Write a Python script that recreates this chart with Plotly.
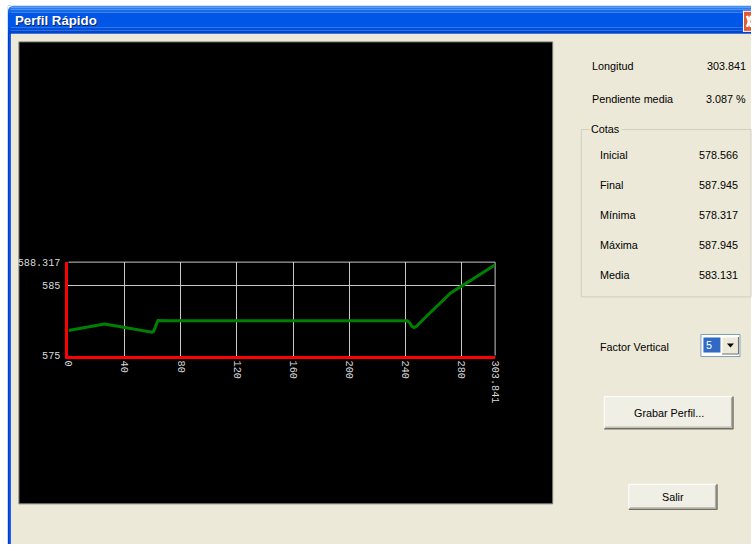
import plotly.graph_objects as go

W, H = 756, 551

# ---------------- data ----------------
distancia = [0, 6, 12, 18, 25.6, 32, 40, 48, 55, 57, 59.4, 60.5, 61.5, 62.5, 63.7,
             72, 90, 110, 130, 150, 170, 190, 210, 230, 241.5, 243.2, 244.6, 246.2,
             248, 255, 263, 271.8, 276, 281.3, 288, 295, 303.841]
cota = [578.57, 578.79, 579.0, 579.22, 579.49, 579.27, 578.99, 578.72, 578.47, 578.41,
        578.32, 578.4, 578.9, 579.6, 579.98,
        579.96, 579.97, 579.95, 579.96, 579.97, 579.95, 579.96, 579.97, 579.96,
        579.96, 579.6, 579.15, 578.98,
        579.2, 580.6, 582.2, 583.84, 584.4, 585.01, 585.9, 586.8, 587.95]

x_tick_vals = [0, 40, 80, 120, 160, 200, 240, 280, 303.841]
x_tick_text = ["0", "40", "80", "120", "160", "200", "240", "280", "303.841"]
y_tick_vals = [575, 585, 588.317]
y_tick_text = ["575", "585", "588.317"]

info_labels = ["Longitud", "Pendiente media"]
info_values = ["303.841", "3.087 %"]
cotas_labels = ["Inicial", "Final", "Mínima", "Máxima", "Media"]
cotas_values = ["578.566", "587.945", "578.317", "587.945", "583.131"]
factor_vertical = "5"

# ---------------- helpers ----------------
# the page is photographed with a small frame; map target pixels to figure pixels
SX, OX = 0.984, 6.1
SY, OY = 0.978, 5.2
FS = 1 / ((SX + SY) / 2)

def X(px):
    p = (px - OX) / SX
    return min(max(p, 0), W) / W

def Y(py):
    p = (py - OY) / SY
    return 1 - min(max(p, 0), H) / H

shapes = []
annotations = []

def rect(x0, y0, x1, y1, fill, line=None, lw=0, layer="below"):
    shapes.append(dict(type="rect", xref="paper", yref="paper",
                       x0=X(x0), x1=X(x1), y0=Y(y1), y1=Y(y0),
                       fillcolor=fill, layer=layer,
                       line=dict(color=line if line else fill, width=lw)))

def seg(x0, y0, x1, y1, color, lw=1, layer="below"):
    shapes.append(dict(type="line", xref="paper", yref="paper",
                       x0=X(x0), x1=X(x1), y0=Y(y0), y1=Y(y1), layer=layer,
                       line=dict(color=color, width=lw)))

def text(x, y, s, anchor="left", size=10.6, color="#000000", family="Liberation Sans",
         bold=False, bg=None):
    annotations.append(dict(x=X(x), y=Y(y), xref="paper", yref="paper", text=(f"<b>{s}</b>" if bold else s),
                            showarrow=False, xanchor=anchor, yanchor="middle",
                            font=dict(size=size * FS, color=color, family=family),
                            bgcolor=bg, borderpad=1 if bg else 0))

BG = "#ECE9D8"

# window client area
rect(11, 35, 770, 570, BG)
# left border
rect(8, 7, 11, 570, "#0855DD")
seg(8.5, 35, 8.5, 570, "#0831D9", 1)
# title bar gradient strips
strips = [(7, 9, "#3D8EF6"), (9, 11, "#2B7BF0"), (11, 14, "#1868EA"),
          (14, 29, "#0056E6"), (29, 32, "#0050DC"), (32, 35, "#0046CB")]
for y0, y1, c in strips:
    rect(8, y0, 770, y1, c)
# rounded corner mask top-left
shapes.append(dict(type="path", xref="paper", yref="paper", layer="below",
                   path=f"M {X(8)},{Y(7)} L {X(14)},{Y(7)} Q {X(8)},{Y(7)} {X(8)},{Y(13)} Z",
                   fillcolor="#FFFFFF", line=dict(width=0)))
# title text
text(15, 23, "Perfil Rápido", size=13, color="#0A246A", bold=True)
text(14, 22, "Perfil Rápido", size=13, color="#FFFFFF", bold=True)
# close button (cut by the right edge)
rect(742, 12, 770, 33, "#E05A32")
seg(742.5, 12, 742.5, 33, "#FFFFFF", 1)
seg(742, 12.5, 770, 12.5, "#FFFFFF", 1)
seg(742, 32.5, 770, 32.5, "#FFFFFF", 1)
seg(746, 17, 756, 28, "#FFFFFF", 2.5)
seg(746, 28, 756, 17, "#FFFFFF", 2.5)

# black chart panel
rect(19, 43, 552, 504, "#000000", "#808080", 1)

# right panel info
info_y = [67, 100]
for lab, val, yy in zip(info_labels, info_values, info_y):
    text(590, yy, lab)
    text(746, yy, val, anchor="right")

# group box "Cotas"
shapes.append(dict(type="rect", xref="paper", yref="paper", layer="below",
                   x0=X(580.5), x1=X(752.5), y0=Y(297.5), y1=Y(130.5),
                   fillcolor="rgba(0,0,0,0)", line=dict(color="#D0D0BF", width=1)))
text(588, 130, "Cotas", bg=BG)
cotas_y = [156, 186, 216, 246, 276]
for lab, val, yy in zip(cotas_labels, cotas_values, cotas_y):
    text(598, yy, lab)
    text(738, yy, val, anchor="right")

# Factor vertical + combo
text(598, 347.5, "Factor Vertical")
rect(700, 335, 739, 357, "#FFFFFF", "#7F9DB9", 1)
rect(702.5, 338, 719.5, 353, "#316AC5")
text(704, 345.5, factor_vertical, color="#FFFFFF")
rect(721, 337.5, 737.5, 354.5, BG)
seg(721, 337.5, 737.5, 337.5, "#FFFFFF", 1)
seg(721, 337.5, 721, 354.5, "#FFFFFF", 1)
seg(721, 354.5, 737.5, 354.5, "#716F64", 1)
seg(737.5, 337.5, 737.5, 354.5, "#716F64", 1)
shapes.append(dict(type="path", xref="paper", yref="paper", layer="above",
                   path=f"M {X(726)},{Y(344)} L {X(733)},{Y(344)} L {X(729.5)},{Y(348)} Z",
                   fillcolor="#000000", line=dict(width=0)))

# buttons
def button(x0, y0, x1, y1, label):
    rect(x0, y0, x1, y1, "#F0EFE6")
    seg(x0, y0, x1, y0, "#FFFFFF", 1)
    seg(x0, y0, x0, y1, "#FFFFFF", 1)
    seg(x0, y1, x1, y1, "#716F64", 1.5)
    seg(x1, y0, x1, y1 + 0.5, "#716F64", 1.5)
    seg(x0 + 1, y1 - 1.5, x1 - 1.5, y1 - 1.5, "#ACA899", 1)
    seg(x1 - 1.5, y0 + 1, x1 - 1.5, y1 - 1.5, "#ACA899", 1)
    text((x0 + x1) / 2, (y0 + y1) / 2, label, anchor="center")

button(603.5, 397, 732, 429, "Grabar Perfil...")
button(628, 484.5, 716, 509.5, "Salir")

# plot frame: grey top and right borders of the plotting area
shapes.append(dict(type="line", xref="x domain", yref="y domain", x0=0, x1=1, y0=1, y1=1,
                   layer="below", line=dict(color="#C8C8C8", width=1)))
shapes.append(dict(type="line", xref="x domain", yref="y domain", x0=1, x1=1, y0=0, y1=1,
                   layer="below", line=dict(color="#C8C8C8", width=1)))

# ---------------- chart ----------------
fig = go.Figure()
fig.add_trace(go.Scatter(x=distancia, y=cota, mode="lines",
                         line=dict(color="#008000", width=3),
                         hoverinfo="skip", showlegend=False))

tick_font = dict(family="Liberation Mono", size=10 * FS, color="#D8D8D8")
fig.update_layout(
    width=W, height=H, autosize=False,
    margin=dict(l=0, r=0, t=0, b=0),
    paper_bgcolor="#FFFFFF", plot_bgcolor="#000000",
    shapes=shapes, annotations=annotations,
    xaxis=dict(domain=[X(68.5), X(494.5)], range=[0, 303.841],
               tickmode="array", tickvals=x_tick_vals, ticktext=x_tick_text,
               tickangle=90, tickfont=tick_font, ticks="",
               showgrid=True, gridcolor="#C8C8C8", gridwidth=1,
               showline=True, linecolor="#FF0000", linewidth=3,
               zeroline=False, fixedrange=True),
    yaxis=dict(domain=[Y(356.0), Y(262.8)], range=[575, 588.317],
               tickmode="array", tickvals=y_tick_vals, ticktext=y_tick_text,
               tickfont=tick_font, ticks="", ticklabelstandoff=3,
               showgrid=True, gridcolor="#C8C8C8", gridwidth=1,
               showline=True, linecolor="#FF0000", linewidth=3,
               zeroline=False, fixedrange=True),
)

fig.write_html(
    "out.html",
    config={"displayModeBar": False},
    post_script="document.documentElement.style.margin='0';document.documentElement.style.overflow='hidden';"
                "document.documentElement.style.background='#ECE9D8';"
                "document.body.style.margin='0';document.body.style.padding='0';"
                "document.body.style.overflow='hidden';document.body.style.background='#ECE9D8';",
)
